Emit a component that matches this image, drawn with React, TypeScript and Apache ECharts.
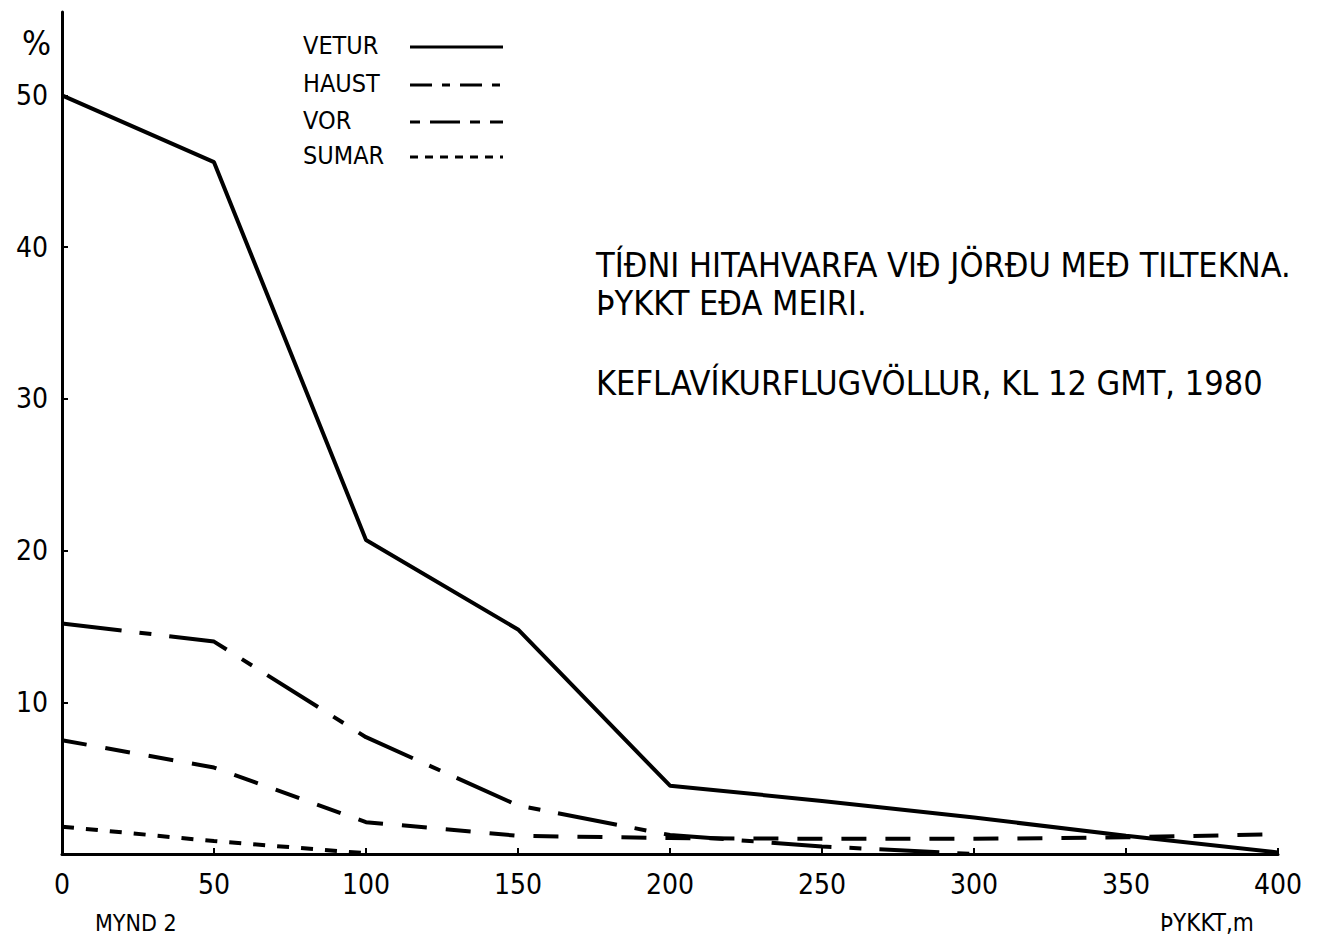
import React, { useEffect, useRef } from "react";
import * as echarts from "echarts";

const xValues = [0, 50, 100, 150, 200, 250, 300, 350, 400];
const vetur = [50, 45.6, 20.7, 14.8, 4.5, 3.5, 2.4, 1.2, 0.1];
const haust = [15.2, 14.0, 7.7, 3.2, 1.25, 0.5, 0];
const vor = [7.5, 5.7, 2.1, 1.2, 1.05, 1.0, 1.0, 1.1, 1.3];
const sumar = [1.8, 0.85, 0.05];
const yTicks = [10, 20, 30, 40, 50];

const FONT = "'Liberation Sans Narrow', 'DejaVu Sans Condensed', 'Roboto Condensed', sans-serif";

const dashes = {
  vetur: undefined as number[] | undefined,
  haust: [60, 18, 12, 18],
  vor: [25, 19],
  sumar: [12, 12],
};

function pairs(vals: number[]) {
  return vals.map((v, i) => [xValues[i], v]);
}

export default function App() {
  const ref = useRef<HTMLDivElement>(null);
  useEffect(() => {
    document.body.style.margin = "0";
    const chart = echarts.init(ref.current!, null, { renderer: "svg" });
    const lineStyle = (d?: number[]) => ({
      color: "#000",
      width: 4,
      type: d ? d : "solid",
    });
    const legendItems = [
      { name: "VETUR", dash: dashes.vetur, y: 47 },
      { name: "HAUST", dash: [22, 10, 8, 10], y: 85 },
      { name: "VOR", dash: [10, 10, 30, 10], y: 122 },
      { name: "SUMAR", dash: [8, 7], y: 157 },
    ];
    const graphics: any[] = [];
    legendItems.forEach((it) => {
      graphics.push({
        type: "text",
        left: 303,
        top: it.y - 14,
        style: { text: it.name, font: `25px ${FONT}`, fill: "#000" },
      });
      graphics.push({
        type: "line",
        shape: { x1: 410, y1: it.y, x2: 503, y2: it.y },
        style: { stroke: "#000", lineWidth: 3, lineDash: it.dash || null },
      });
    });
    graphics.push(
      { type: "text", left: 22, top: 26, style: { text: "%", font: `34px ${FONT}`, fill: "#000" } },
      { type: "text", left: 596, top: 248, style: { text: "TÍÐNI HITAHVARFA VIÐ JÖRÐU MEÐ TILTEKNA.", font: `34px ${FONT}`, fill: "#000" } },
      { type: "text", left: 596, top: 286, style: { text: "ÞYKKT EÐA MEIRI.", font: `34px ${FONT}`, fill: "#000" } },
      { type: "text", left: 596, top: 366, style: { text: "KEFLAVÍKURFLUGVÖLLUR, KL 12 GMT, 1980", font: `34px ${FONT}`, fill: "#000" } },
      { type: "text", left: 95, top: 911, style: { text: "MYND 2", font: `23px ${FONT}`, fill: "#000" } },
      { type: "text", left: 1160, top: 911, style: { text: "ÞYKKT,m", font: `24px ${FONT}`, fill: "#000" } }
    );
    chart.setOption({
      animation: false,
      backgroundColor: "#fff",
      grid: { left: 62, right: 63, top: 12, bottom: 86 },
      xAxis: {
        type: "value",
        min: 0,
        max: 400,
        interval: 50,
        axisLine: { lineStyle: { color: "#000", width: 3 } },
        axisTick: { show: true, inside: true, length: 6, lineStyle: { color: "#000", width: 2 } },
        axisLabel: { color: "#000", fontSize: 28, fontFamily: FONT, margin: 16 },
        splitLine: { show: false },
      },
      yAxis: {
        type: "value",
        min: 0,
        max: 55.5,
        interval: 10,
        axisLine: { show: true, lineStyle: { color: "#000", width: 3 } },
        axisTick: { show: true, inside: true, length: 6, lineStyle: { color: "#000", width: 2 } },
        axisLabel: {
          color: "#000",
          fontSize: 28,
          fontFamily: FONT,
          margin: 14,
          showMaxLabel: false,
          formatter: (v: number) => (yTicks.includes(v) ? String(v) : ""),
        },
        splitLine: { show: false },
      },
      series: [
        { name: "VETUR", type: "line", data: pairs(vetur), symbol: "none", lineStyle: lineStyle(dashes.vetur) },
        { name: "HAUST", type: "line", data: pairs(haust), symbol: "none", lineStyle: lineStyle(dashes.haust) },
        { name: "VOR", type: "line", data: pairs(vor), symbol: "none", lineStyle: lineStyle(dashes.vor) },
        { name: "SUMAR", type: "line", data: pairs(sumar), symbol: "none", lineStyle: lineStyle(dashes.sumar) },
      ],
      graphic: graphics,
    });
    return () => chart.dispose();
  }, []);
  return <div ref={ref} style={{ width: 1341, height: 940 }} />;
}
